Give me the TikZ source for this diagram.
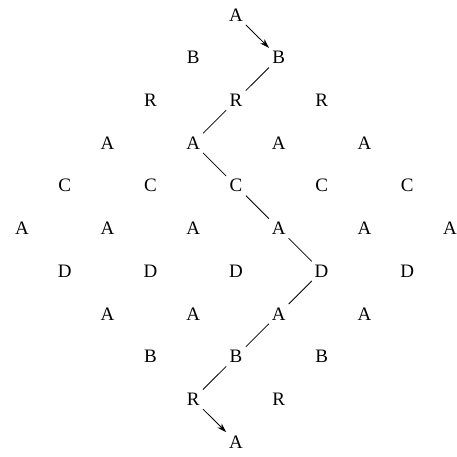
\documentclass[tikz,border=0pt]{standalone}
\usepackage{fontspec}
\setmainfont{Liberation Serif}
\usetikzlibrary{arrows.meta}
\begin{document}
\begin{tikzpicture}[x=1pt,y=-1pt,
  letter/.style={inner sep=3pt,font=\fontsize{19}{19}\selectfont},
  link/.style={line width=0.8pt,shorten <=0.5pt,shorten >=0.5pt},
  arrowlink/.style={link,-{Stealth[length=9.5pt,width=6pt]}}]
\useasboundingbox (0,0) rectangle (457,457);
\foreach \r/\L in {0/A,1/B,2/R,3/A,4/C,5/A,6/D,7/A,8/B,9/R,10/A}{
  \pgfmathtruncatemacro{\lo}{\r<=5 ? 5-\r : \r-5}
  \pgfmathtruncatemacro{\hi}{10-\lo}
  \foreach \c in {\lo,...,\hi}{
    \pgfmathtruncatemacro{\pty}{mod(\c+\r+5,2)}
    \ifnum\pty=0
      \node[letter] (n-\r-\c) at ({22+\c*42.8},{15+\r*42.7}) {\L};
    \fi
  }
}
\draw[arrowlink] (n-0-5) -- (n-1-6);
\draw[link] (n-1-6) -- (n-2-5);
\draw[link] (n-2-5) -- (n-3-4);
\draw[link] (n-3-4) -- (n-4-5);
\draw[link] (n-4-5) -- (n-5-6);
\draw[link] (n-5-6) -- (n-6-7);
\draw[link] (n-6-7) -- (n-7-6);
\draw[link] (n-7-6) -- (n-8-5);
\draw[link] (n-8-5) -- (n-9-4);
\draw[arrowlink] (n-9-4) -- (n-10-5);
\end{tikzpicture}
\end{document}
